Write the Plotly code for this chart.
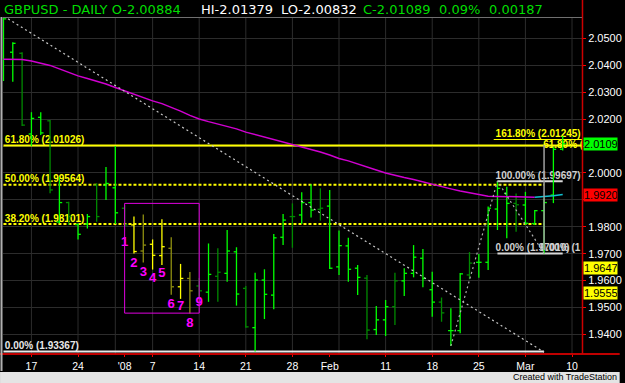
import plotly.graph_objects as go

# ---------------- data (trading-day index, 0 = 17 Dec 2007) ----------------
bar_index = list(range(-3, 58))
opens = [2.0346, 2.0449, 2.0445, 2.0145, 2.0207, 2.0194, 1.9818, 1.9890, 1.9808, 1.9810,
         1.9955, 1.9955, 1.9945, 1.9869, 1.9807, 1.9710, 1.9735, 1.9693, 1.9720, 1.9577,
         1.9608, 1.9580, 1.9557, 1.9616, 1.9627, 1.9707, 1.9571, 1.9425, 1.9602, 1.9546,
         1.9761, 1.9838, 1.9844, 1.9890, 1.9865, 1.9877, 1.9651, 1.9729, 1.9646, 1.9609,
         1.9418, 1.9454, 1.9503, 1.9599, 1.9627, 1.9683, 1.9566, 1.9520, 1.9414, 1.9414,
         1.9621, 1.9668, 1.9668, 1.9866, 1.9924, 1.9887, 1.9881, 1.9812, 1.9860, 1.9918,
         2.00884]
highs = [2.0576, 2.0486, 2.0449, 2.0226, 2.0226, 2.0197, 1.9986, 1.9893, 1.9813, 1.9848,
         1.9962, 2.0022, 2.0100, 1.9880, 1.9838, 1.9846, 1.9753, 1.9828, 1.9761, 1.9662,
         1.9632, 1.9610, 1.9738, 1.9720, 1.9788, 1.9724, 1.9580, 1.9629, 1.9642, 1.9773,
         1.9848, 1.9887, 1.9928, 1.9958, 1.9943, 1.9937, 1.9786, 1.9759, 1.9658, 1.9621,
         1.9506, 1.9528, 1.9629, 1.9646, 1.9732, 1.9717, 1.9633, 1.9537, 1.9497, 1.9628,
         1.9706, 1.9699, 1.9875, 1.99697, 1.9949, 1.9924, 1.9930, 1.9862, 1.9905, 2.0097,
         2.01379]
lows = [2.0342, 2.0339, 2.0175, 2.0100, 2.0141, 1.9925, 1.9813, 1.9807, 1.9753, 1.9794,
        1.9819, 1.9900, 1.9810, 1.9800, 1.9701, 1.9667, 1.9641, 1.9658, 1.9547, 1.9532,
        1.9478, 1.9530, 1.9521, 1.9521, 1.9596, 1.9507, 1.9425, 1.93367, 1.9457, 1.9493,
        1.9732, 1.9722, 1.9810, 1.9835, 1.9823, 1.9643, 1.9621, 1.9596, 1.9546, 1.9382,
        1.9398, 1.9394, 1.9435, 1.9543, 1.9612, 1.9575, 1.9466, 1.9447, 1.9357, 1.9404,
        1.9605, 1.9611, 1.9639, 1.9788, 1.9757, 1.9782, 1.9807, 1.9807, 1.9701, 1.9888,
        2.00832]
closes = [2.0573, 2.0482, 2.0178, 2.0203, 2.0149, 1.9937, 1.9890, 1.9838, 1.9772, 1.9838,
          1.9838, 1.9961, 1.9852, 1.9807, 1.9708, 1.9732, 1.9694, 1.9726, 1.9577, 1.9608,
          1.9562, 1.9562, 1.9623, 1.9631, 1.9710, 1.9550, 1.9428, 1.9602, 1.9549, 1.9759,
          1.9825, 1.9838, 1.9890, 1.9862, 1.9869, 1.9646, 1.9730, 1.9642, 1.9612, 1.9416,
          1.9454, 1.9503, 1.9599, 1.9627, 1.9687, 1.9608, 1.9520, 1.9480, 1.9414, 1.9625,
          1.9665, 1.9668, 1.9869, 1.9943, 1.9887, 1.9882, 1.9813, 1.9860, 1.9890, 2.0088,
          2.01089]
bar_kind = ['g', 'g', 'd', 'g', 'g', 'd', 'g', 'd', 'g', 'g',
            'd', 'g', 'g', 'd', 'y', 'o', 'y', 'y', 'o', 'y',
            'o', 'd', 'g', 'd', 'g', 'g', 'd', 'g', 'g', 'g',
            'g', 'd', 'g', 'g', 'd', 'g', 'g', 'g', 'g', 'd',
            'g', 'g', 'd', 'g', 'g', 'g', 'g', 'd', 'g', 'g',
            'd', 'g', 'g', 'g', 'g', 'd', 'g', 'g', 'g', 'g',
            'g']
ma_values = [2.0423, 2.0423, 2.0422, 2.0416, 2.0409, 2.0400, 2.0387, 2.0374, 2.0361, 2.0351,
             2.0342, 2.0331, 2.0318, 2.0305, 2.0292, 2.0279, 2.0268, 2.0258, 2.0245, 2.0230,
             2.0214, 2.0201, 2.0191, 2.0182, 2.0173, 2.0164, 2.0152, 2.0143, 2.0134, 2.0125,
             2.0115, 2.0106, 2.0097, 2.0087, 2.0078, 2.0067, 2.0054, 2.0045, 2.0033, 2.0022,
             2.0011, 2.0000, 1.9991, 1.9983, 1.9976, 1.9967, 1.9957, 1.9950, 1.9941, 1.9933,
             1.9926, 1.9920, 1.9914, 1.9913, 1.9913, 1.9912, 1.9911, 1.9910, 1.9912, 1.9915,
             1.9920]
ma_cyan_from = 54

tick_index = [0, 5, 10, 13, 18, 23, 28, 32, 38, 43, 48, 53, 58]
tick_text = ['17', '24', "'08", '7', '14', '21', '28', 'Feb', '11', '18', '25', 'Mar', '10']
monday_index = [0, 5, 9, 13, 18, 23, 28, 33, 38, 43, 48, 53, 58]
price_ticks = [1.94, 1.95, 1.96, 1.97, 1.98, 1.99, 2.00, 2.01, 2.02, 2.03, 2.04, 2.05]
price_tick_text = ['1.9400', '1.9500', '1.9600', '1.9700', '1.9800', '', '2.0000', '',
                   '2.0200', '2.0300', '2.0400', '2.0500']

# Fibonacci retracement (swing high -> swing low 1.93367)
retr_labels = ['0.00%', '38.20%', '50.00%', '61.80%']
retr_prices = [1.93367, 1.98101, 1.99564, 2.01026]
retr_start, retr_end = -3, 55

# second Fibonacci drawing
ext_labels = ['0.00%', '100.00%', '161.80%']
ext_prices = [1.97010, 1.99697, 2.01245]
ext_start, ext_end = 50, 57
zig_index = [45, 50, 55]
zig_prices = [1.9357, 1.99697, 1.97010]
edge_index = [55, 55]
edge_prices = [1.9714, 2.0104]

trend_index = [-2.5, 55]
trend_prices = [2.0573, 1.9334]

box_index = [10, 18]
box_prices = [1.9479, 1.9887]
wave_labels = ['1', '2', '3', '4', '5', '6', '7', '8', '9']
wave_index = [10, 11, 12, 13, 14, 15, 16, 17, 18]
wave_prices = [1.9740, 1.9662, 1.9631, 1.9607, 1.9627, 1.9512, 1.9501, 1.9441, 1.9518]

last_values = [2.0109, 1.9920, 1.9647, 1.9555]
last_colors = ['#00ff00', '#ff0000', '#ffff00', '#ffff00']

title_parts = ['GBPUSD - DAILY O-2.00884', 'HI-2.01379', 'LO-2.00832', 'C-2.01089', '0.09%', '0.00187']
title_colors = ['#00dd00', '#ffffff', '#ffffff', '#00dd00', '#00dd00', '#00dd00']
title_left_px = [3, 202, 282, 365, 442, 492]

# ---------------- layout helpers ----------------
W, H = 625, 383
ML, MR, MT, MB = 3, 38, 18, 29
PW, PH = W - ML - MR, H - MT - MB
XR = [-3.05, 59.07]
YR = [1.93271, 2.05762]


def px(x):
    return (x - ML) / PW


def py(y):
    return (H - MB - y) / PH


COL = {'g': '#00ff00', 'd': '#008a00', 'y': '#ffff00', 'o': '#8f8f10'}
FONT = 'Arial, Liberation Sans, sans-serif'


def fib_text(label, price):
    return '<b>' + label + ' (' + ('%.5f' % price) + ')</b>'


fig = go.Figure()

# retracement lines
for lab, p in zip(retr_labels, retr_prices):
    if lab == '61.80%':
        fig.add_trace(go.Scatter(x=[retr_start, XR[1]], y=[p, p], mode='lines',
                                 line=dict(color='#ffff00', width=2), hoverinfo='skip'))
    elif lab == '0.00%':
        fig.add_trace(go.Scatter(x=[retr_start, retr_end], y=[p, p], mode='lines',
                                 line=dict(color='#e8e8e8', width=2), hoverinfo='skip'))
    else:
        fig.add_trace(go.Scatter(x=[retr_start, retr_end], y=[p, p], mode='lines',
                                 line=dict(color='#ffff00', width=2, dash='3px,2px'),
                                 hoverinfo='skip'))
    col = '#e8e8e8' if lab == '0.00%' else '#ffff00'
    fig.add_trace(go.Scatter(x=[retr_start + 0.15], y=[p], mode='text',
                             text=[fib_text(lab, p)], textposition='top right',
                             textfont=dict(color=col, size=10, family=FONT), hoverinfo='skip'))

# second fib drawing lines
for lab, p in zip(ext_labels, ext_prices):
    if lab == '161.80%':
        fig.add_trace(go.Scatter(x=[ext_start - 0.4, XR[1]], y=[p, p], mode='lines',
                                 line=dict(color='#ffff00', width=1), hoverinfo='skip'))
        col = '#ffff00'
    else:
        fig.add_trace(go.Scatter(x=[ext_start, ext_end], y=[p, p], mode='lines',
                                 line=dict(color='#d8d8d8', width=2), hoverinfo='skip'))
        col = '#d0d0d0'
    fig.add_trace(go.Scatter(x=[ext_start - 0.2], y=[p], mode='text',
                             text=[fib_text(lab, p)], textposition='top right',
                             textfont=dict(color=col, size=10, family=FONT), hoverinfo='skip'))
# overlapping, truncated labels of a third drawing (as shown in the reference)
fig.add_trace(go.Scatter(x=[54.6], y=[ext_prices[0]], mode='text',
                         text=['<b>0.00% (1</b>'], textposition='top right',
                         textfont=dict(color='#d0d0d0', size=10, family=FONT), hoverinfo='skip'))
fig.add_trace(go.Scatter(x=[54.9], y=[retr_prices[3]], mode='text',
                         text=['<b>61.80% (</b>'], textposition='middle right',
                         textfont=dict(color='#ffff00', size=10, family=FONT), hoverinfo='skip'))

# bars
for k in ['d', 'o', 'y', 'g']:
    xs, ys = [], []
    for i, o, h, l, c, kind in zip(bar_index, opens, highs, lows, closes, bar_kind):
        if kind != k:
            continue
        xs += [i, i, None, i - 0.3, i, None, i, i + 0.3, None]
        ys += [l, h, None, o, o, None, c, c, None]
    fig.add_trace(go.Scatter(x=xs, y=ys, mode='lines', line=dict(color=COL[k], width=1.3),
                             hoverinfo='skip'))

# moving average
cut = bar_index.index(ma_cyan_from)
fig.add_trace(go.Scatter(x=bar_index[:cut + 1], y=ma_values[:cut + 1], mode='lines',
                         line=dict(color='#d000d0', width=1.5), hoverinfo='skip'))
fig.add_trace(go.Scatter(x=bar_index[cut:], y=ma_values[cut:], mode='lines',
                         line=dict(color='#10c0d0', width=1.5), hoverinfo='skip'))

# dotted trend lines
fig.add_trace(go.Scatter(x=trend_index, y=trend_prices, mode='lines',
                         line=dict(color='#c8c8c8', width=1.2, dash='2px,3px'), hoverinfo='skip'))
fig.add_trace(go.Scatter(x=zig_index, y=zig_prices, mode='lines',
                         line=dict(color='#b0b0b0', width=1.2, dash='2px,3px'), hoverinfo='skip'))
fig.add_trace(go.Scatter(x=edge_index, y=edge_prices, mode='lines',
                         line=dict(color='#a0a0a0', width=1.5), hoverinfo='skip'))

# wave numbers
fig.add_trace(go.Scatter(x=wave_index, y=wave_prices, mode='text', text=['<b>' + t + '</b>' for t in wave_labels],
                         textposition='middle center',
                         textfont=dict(color='#ff00ff', size=13, family=FONT), hoverinfo='skip'))

shapes = []
for m in monday_index:
    shapes.append(dict(type='line', xref='x', yref='paper', x0=m, x1=m, y0=0, y1=1,
                       line=dict(color='#2c2c2c', width=1), layer='below'))
shapes.append(dict(type='rect', xref='x', yref='y', x0=box_index[0], x1=box_index[1],
                   y0=box_prices[0], y1=box_prices[1], line=dict(color='#e000e0', width=1)))
# frame / chrome
shapes.append(dict(type='rect', xref='paper', yref='paper', x0=px(0), x1=px(W), y0=py(H), y1=py(372),
                   fillcolor='#e4e4e4', line=dict(width=0), layer='above'))
shapes.append(dict(type='line', xref='paper', yref='paper', x0=px(0), x1=px(W), y0=py(354), y1=py(354),
                   line=dict(color='#ff0000', width=1.5)))
shapes.append(dict(type='line', xref='paper', yref='paper', x0=px(587.5), x1=px(587.5), y0=py(354), y1=py(0),
                   line=dict(color='#cc0000', width=1.5)))
shapes.append(dict(type='line', xref='paper', yref='paper', x0=px(3), x1=px(587), y0=py(17.5), y1=py(17.5),
                   line=dict(color='#707070', width=1)))
shapes.append(dict(type='line', xref='paper', yref='paper', x0=px(1.5), x1=px(1.5), y0=py(371), y1=py(17),
                   line=dict(color='#b0b0b0', width=2)))

annotations = []
for t, c, xl in zip(title_parts, title_colors, title_left_px):
    annotations.append(dict(xref='paper', yref='paper', x=px(xl), y=py(9), xanchor='left',
                            yanchor='middle', showarrow=False, text=t, borderpad=0,
                            font=dict(family='DejaVu Sans, sans-serif', size=13, color=c)))
for v, c in zip(last_values, last_colors):
    annotations.append(dict(xref='paper', yref='y', x=px(588), y=v, xanchor='left', yanchor='middle',
                            showarrow=False, text='%.4f' % v, bgcolor=c, width=33, align='left',
                            borderpad=0, font=dict(family=FONT, size=11, color='#000000')))
annotations.append(dict(xref='paper', yref='paper', x=px(623), y=py(383), xanchor='right',
                        yanchor='bottom', showarrow=False, text='Created with TradeStation',
                        borderpad=0, font=dict(family=FONT, size=9, color='#000000')))

fig.update_layout(
    width=W, height=H, margin=dict(l=ML, r=MR, t=MT, b=MB, pad=0),
    paper_bgcolor='#000000', plot_bgcolor='#000000', showlegend=False,
    xaxis=dict(range=XR, tickmode='array', tickvals=tick_index, ticktext=tick_text,
               showgrid=False, zeroline=False, showline=False, ticks='outside', ticklen=2,
               tickcolor='#ff0000', tickfont=dict(family=FONT, size=10.5, color='#ffffff'), fixedrange=True),
    yaxis=dict(range=YR, side='right', tickmode='array', tickvals=price_ticks, ticktext=price_tick_text,
               showgrid=True, gridcolor='#2c2c2c', gridwidth=1, zeroline=False, showline=False,
               ticks='outside', ticklen=3, tickcolor='#ff0000',
               tickfont=dict(family=FONT, size=11, color='#ffffff'), fixedrange=True),
    shapes=shapes, annotations=annotations,
)

fig.write_html('out.html')
